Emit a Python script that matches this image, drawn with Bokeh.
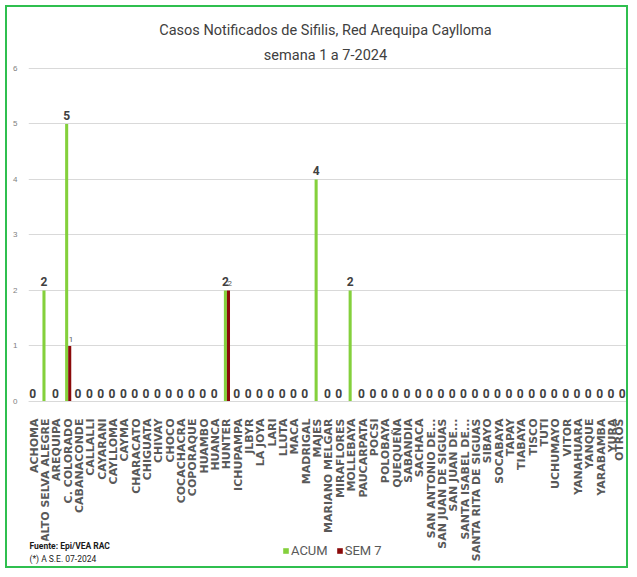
import math
from bokeh.plotting import figure
from bokeh.models import (ColumnDataSource, FactorRange, Range1d, Label, Legend,
                          LegendItem, LabelSet)
from bokeh.transform import dodge
from bokeh.core.properties import value
from bokeh.embed import file_html
from bokeh.resources import INLINE

categories = ["ACHOMA", "ALTO SELVA ALEGRE", "AREQUIPA", "C. COLORADO", "CABANACONDE",
              "CALLALLI", "CAYARANI", "CAYLLOMA", "CAYMA", "CHARACATO", "CHIGUATA",
              "CHIVAY", "CHOCO", "COCACHACRA", "COPORAQUE", "HUAMBO", "HUANCA", "HUNTER",
              "ICHUPAMPA", "JLBYR", "LA JOYA", "LARI", "LLUTA", "MACA", "MADRIGAL", "MAJES",
              "MARIANO MELGAR", "MIRAFLORES", "MOLLEBAYA", "PAUCARPATA", "POCSI",
              "POLOBAYA", "QUEQUEÑA", "SABANDIA", "SACHACA", "SAN ANTONIO DE...",
              "SAN JUAN DE SIGUAS", "SAN JUAN DE...", "SANTA ISABEL DE...",
              "SANTA RITA DE SIGUAS", "SIBAYO", "SOCABAYA", "TAPAY", "TIABAYA", "TISCO",
              "TUTI", "UCHUMAYO", "VITOR", "YANAHUARA", "YANQUE", "YARABAMBA", "YURA",
              "OTROS"]

acum = [0, 2, 0, 5, 0, 0, 0, 0, 0, 0, 0, 0, 0, 0, 0, 0, 0, 2, 0, 0, 0, 0, 0, 0, 0, 4,
        0, 0, 2, 0, 0, 0, 0, 0, 0, 0, 0, 0, 0, 0, 0, 0, 0, 0, 0, 0, 0, 0, 0, 0, 0, 0, 0]
sem7 = [0, 0, 0, 1, 0, 0, 0, 0, 0, 0, 0, 0, 0, 0, 0, 0, 0, 2, 0, 0, 0, 0, 0, 0, 0, 0,
        0, 0, 0, 0, 0, 0, 0, 0, 0, 0, 0, 0, 0, 0, 0, 0, 0, 0, 0, 0, 0, 0, 0, 0, 0, 0, 0]

series_names = ["ACUM", "SEM 7"]
y_ticks = [0, 1, 2, 3, 4, 5, 6]

title_1 = "Casos Notificados de Sifilis, Red Arequipa Caylloma"
title_2 = "semana 1 a 7-2024"
footer_1 = "Fuente: Epi/VEA RAC"
footer_2 = "(*) A S.E. 07-2024"

GREEN = "#84d03c"
RED = "#8b0a0a"
FONT = "Roboto"

src = ColumnDataSource(dict(cat=categories, acum=acum, sem7=sem7,
                            acum_txt=[str(v) for v in acum]))
sem_nz = [(c, v) for c, v in zip(categories, sem7) if v != 0]
src_sem = ColumnDataSource(dict(cat=[c for c, _ in sem_nz], sem7=[v for _, v in sem_nz],
                                txt=[str(v) for _, v in sem_nz]))

# frame spans the full canvas height; the category axis is pinned at y = 0
p = figure(width=623, height=563, x_range=FactorRange(*categories, range_padding=0),
           y_range=Range1d(-3.045, 7.099), output_backend="svg", toolbar_location=None,
           min_border_left=21, min_border_right=1, min_border_top=0,
           min_border_bottom=0,
           styles={"border": "2px solid #2fbf4f", "margin-left": "5px",
                   "margin-top": "5px"})
p.outline_line_color = None
p.background_fill_color = "white"
p.border_fill_color = "white"

r1 = p.vbar(x=dodge("cat", -0.135, range=p.x_range), top="acum", width=0.27,
            source=src, fill_color=GREEN, line_color=None)
r2 = p.vbar(x=dodge("cat", 0.135, range=p.x_range), top="sem7", width=0.27,
            source=src, fill_color=RED, line_color=None)

p.add_layout(LabelSet(x=dodge("cat", -0.135, range=p.x_range), y="acum", text="acum_txt",
                      source=src, text_align="center", text_baseline="bottom",
                      y_offset=4, text_font=value(FONT),
                      text_font_style="bold", text_font_size="12px",
                      text_color="#404040"))
p.add_layout(LabelSet(x=dodge("cat", 0.135, range=p.x_range), y="sem7", text="txt",
                      source=src_sem, text_align="left", text_baseline="bottom",
                      y_offset=4, x_offset=-1, text_font=value(FONT),
                      text_font_size="8px", text_color="#595959"))

# axes
p.xaxis.fixed_location = 0
p.xaxis.major_label_orientation = math.pi / 2
p.xaxis.major_label_text_font = "DejaVu Sans"
p.xaxis.major_label_text_font_style = "bold"
p.xaxis.major_label_text_font_size = "11px"
p.xaxis.major_label_text_color = "#595959"
p.xaxis.major_label_standoff = 11
p.xaxis.axis_line_color = "#d9d9d9"
p.xaxis.major_tick_line_color = None
p.xaxis.minor_tick_line_color = None
p.xgrid.grid_line_color = None

p.yaxis.ticker = y_ticks
p.yaxis.axis_line_color = None
p.yaxis.major_tick_line_color = None
p.yaxis.minor_tick_line_color = None
p.yaxis.major_label_text_font_size = "8px"
p.yaxis.major_label_text_color = "#808080"
p.yaxis.major_label_standoff = 5
p.ygrid.grid_line_color = "#d9d9d9"
p.ygrid.grid_line_width = 1

# titles and footer
p.add_layout(Label(x=26.19, y=6.685, text=title_1, text_align="center",
                   text_baseline="middle", text_font=FONT,
                   text_font_size="14.5px", text_color="#404040"))
p.add_layout(Label(x=26.19, y=6.234, text=title_2, text_align="center",
                   text_baseline="middle", text_font=FONT,
                   text_font_size="14.5px", text_color="#404040"))
p.add_layout(Label(x=0, y=-2.6, text=footer_1, text_align="left", x_offset=1,
                   text_baseline="middle", text_font=FONT,
                   text_font_size="8.5px", text_color="#1a1a1a", text_font_style="bold",
                   background_fill_color="white"))
p.add_layout(Label(x=0, y=-2.83, text=footer_2, text_align="left", x_offset=1,
                   text_baseline="middle", text_font=FONT,
                   text_font_size="8.5px", text_color="#1a1a1a",
                   background_fill_color="white"))

legend = Legend(items=[LegendItem(label=series_names[0], renderers=[r1]),
                       LegendItem(label=series_names[1], renderers=[r2])],
                orientation="horizontal", location=(254, 12),
                label_text_font=FONT,
                label_text_font_size="13px", label_text_color="#595959",
                glyph_width=7, glyph_height=7, spacing=8, padding=0, margin=0,
                label_standoff=2, background_fill_alpha=0, border_line_alpha=0)
p.add_layout(legend, "center")

open("out.html", "w").write(file_html(p, INLINE))
